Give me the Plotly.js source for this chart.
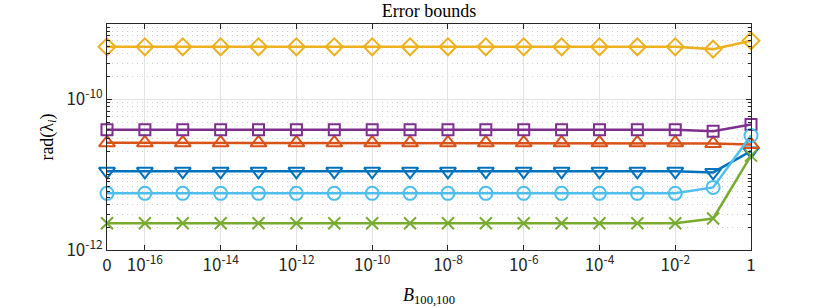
<!DOCTYPE html>
<html>
<head>
<meta charset="utf-8">
<script src="https://cdn.plot.ly/plotly-3.0.1.min.js"></script>
<style>html,body{margin:0;padding:0;background:#fff;}#chart{width:830px;height:308px;}</style>
</head>
<body>
<div id="chart"></div>
<script>
// x positions: index 0 -> B=0, index 1 -> 1e-16, ..., index 16 -> 1e-1, index 17 -> 1
const xIndex = [0,1,2,3,4,5,6,7,8,9,10,11,12,13,14,15,16,17];
const xTickVals = [0,1,3,5,7,9,11,13,15,17];
const xTickText = ["0","10<sup>-16</sup>","10<sup>-14</sup>","10<sup>-12</sup>","10<sup>-10</sup>","10<sup>-8</sup>","10<sup>-6</sup>","10<sup>-4</sup>","10<sup>-2</sup>","1"];
const yTickVals = [1e-12, 1e-10];
const yTickText = ["10<sup>-12</sup>","10<sup>-10</sup>"];
const yMinorVals = [2e-12,3e-12,4e-12,5e-12,6e-12,7e-12,8e-12,9e-12,1e-11,2e-11,3e-11,4e-11,5e-11,6e-11,7e-11,8e-11,9e-11,2e-10,3e-10,4e-10,5e-10,6e-10,7e-10,8e-10,9e-10];

const blueTri = [1.107e-11,1.107e-11,1.107e-11,1.107e-11,1.107e-11,1.107e-11,1.107e-11,1.107e-11,1.107e-11,1.107e-11,1.107e-11,1.107e-11,1.107e-11,1.107e-11,1.107e-11,1.107e-11,1.07e-11,2.06e-11];
const orangeTri = [2.65e-11,2.65e-11,2.65e-11,2.65e-11,2.65e-11,2.65e-11,2.65e-11,2.65e-11,2.65e-11,2.65e-11,2.65e-11,2.65e-11,2.65e-11,2.65e-11,2.65e-11,2.65e-11,2.59e-11,2.51e-11];
const yellowDiam = [4.98e-10,4.98e-10,4.98e-10,4.98e-10,4.98e-10,4.98e-10,4.98e-10,4.98e-10,4.98e-10,4.98e-10,4.98e-10,4.98e-10,4.98e-10,4.98e-10,4.98e-10,4.98e-10,4.64e-10,5.98e-10];
const purpleSq = [3.95e-11,3.95e-11,3.95e-11,3.95e-11,3.95e-11,3.95e-11,3.95e-11,3.95e-11,3.95e-11,3.95e-11,3.95e-11,3.95e-11,3.95e-11,3.95e-11,3.95e-11,3.95e-11,3.78e-11,4.64e-11];
const greenX = [2.27e-12,2.27e-12,2.27e-12,2.27e-12,2.27e-12,2.27e-12,2.27e-12,2.27e-12,2.27e-12,2.27e-12,2.27e-12,2.27e-12,2.27e-12,2.27e-12,2.27e-12,2.27e-12,2.62e-12,1.79e-11];
const lightBlueCirc = [5.65e-12,5.65e-12,5.65e-12,5.65e-12,5.65e-12,5.65e-12,5.65e-12,5.65e-12,5.65e-12,5.65e-12,5.65e-12,5.65e-12,5.65e-12,5.65e-12,5.65e-12,5.65e-12,6.78e-12,3.31e-11];

function tr(y, color, symbol, size){
  return {x:xIndex, y:y, type:'scatter', mode:'lines+markers',
    line:{color:color, width:2.5},
    marker:{symbol:symbol, size:size, color:color, line:{color:color, width:2}},
    showlegend:false, cliponaxis:false};
}
const data = [
  tr(blueTri,'#0072BD','triangle-down-open',14),
  tr(orangeTri,'#D95319','triangle-up-open',14),
  tr(yellowDiam,'#EDB120','diamond-open',13),
  tr(purpleSq,'#7E2F8E','square-open',11),
  tr(greenX,'#77AC30','x-thin-open',12),
  tr(lightBlueCirc,'#4DBEEE','circle-open',13)
];
const tickFont = {family:'"Noto Sans CJK JP", "Noto Sans", sans-serif', size:17, color:'#262626'};
const serif = '"Liberation Serif", "DejaVu Serif", serif';
const layout = {
  width:830, height:308,
  margin:{l:107, r:79, t:24, b:58},
  paper_bgcolor:'#fff', plot_bgcolor:'#fff',
  title:{text:'Error bounds', font:{family:serif, size:18, color:'#000'}, x:0.5, xref:'paper', y:1-11/308, yref:'container', yanchor:'middle'},
  xaxis:{range:[0,17], tickmode:'array', tickvals:xTickVals, ticktext:xTickText,
    showgrid:true, gridcolor:'#e3e3e3', gridwidth:1, zeroline:false,
    showline:true, linecolor:'#262626', linewidth:1, mirror:'ticks',
    ticks:'inside', ticklen:5, tickcolor:'#262626', tickfont:tickFont,
    title:{text:'<i>B</i><sub>100,100</sub>', font:{family:serif, size:18, color:'#000'}, standoff:12}},
  yaxis:{type:'log', range:[-12,-9], tickmode:'array', tickvals:yTickVals, ticktext:yTickText,
    showgrid:true, gridcolor:'#e3e3e3', gridwidth:1, zeroline:false,
    showline:true, linecolor:'#262626', linewidth:1, mirror:'ticks',
    ticks:'inside', ticklen:5, tickcolor:'#262626', tickfont:tickFont,
    minor:{tickmode:'array', tickvals:yMinorVals, ticks:'inside', ticklen:3, tickcolor:'#262626',
      showgrid:true, gridcolor:'#cfcfcf', griddash:'1px,4px', gridwidth:1},
    title:{text:'rad(λ<sub><i>i</i></sub>)', font:{family:serif, size:18, color:'#000'}, standoff:8}}
};
Plotly.newPlot('chart', data, layout, {staticPlot:true, displayModeBar:false});
</script>
</body>
</html>
